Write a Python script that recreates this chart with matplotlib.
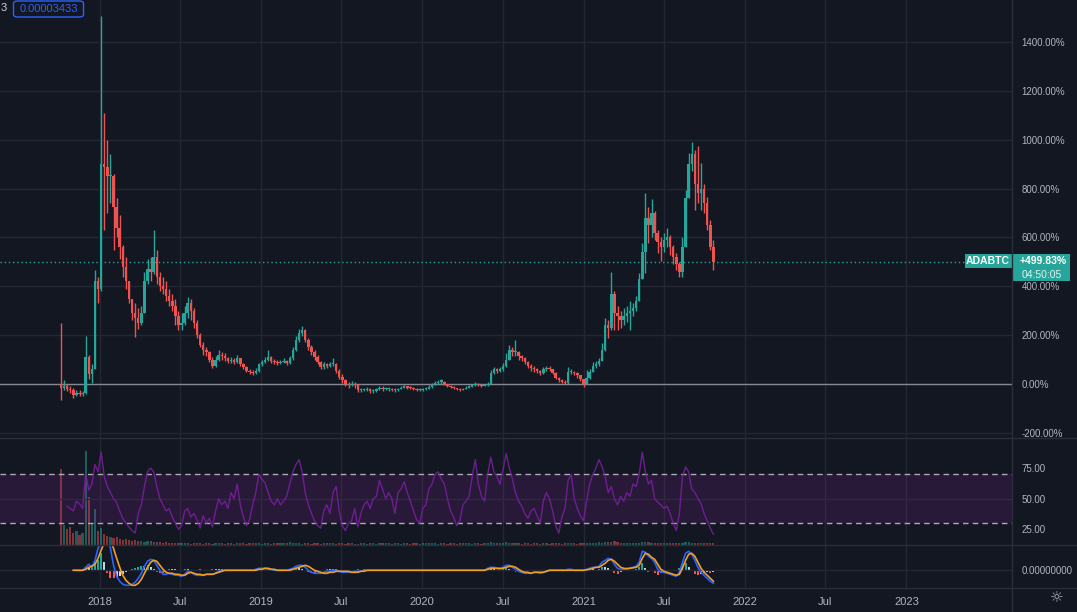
import numpy as np
import pandas as pd
import matplotlib
matplotlib.use('Agg')
import matplotlib.pyplot as plt
import matplotlib.dates as mdates
from matplotlib.lines import Line2D
from matplotlib.patches import Rectangle, FancyBboxPatch

plt.rcParams['font.family'] = ['Liberation Sans', 'DejaVu Sans']

nan = np.nan

# ADABTC weekly candles, % change from the first close
week_start = '2017-10-02'
closes = [
    -15, -10, -20, -25, -45, -35, -40, -38, 110, 40,
    60, 420, 390, 900, 890, 850, 850, 725, 640, 560,
    480, 420, 350, 290, 270, 250, 290, 420, 470, 460,
    520, 440, 400, 390, 360, 340, 320, 280, 240, 250,
    290, 330, 300, 250, 200, 160, 140, 130, 100, 75,
    100, 120, 115, 105, 95, 100, 90, 105, 80, 70,
    55, 50, 45, 55, 80, 90, 100, 110, 95, 90,
    85, 90, 95, 85, 105, 140, 180, 210, 220, 180,
    150, 130, 110, 90, 70, 80, 75, 80, 80, 55,
    30, 15, 0, -5, 0, -5, -25, -25, -25, -20,
    -30, -30, -20, -15, -20, -20, -20, -25, -25, -20,
    -15, -12, -15, -18, -20, -25, -25, -20, -20, -12,
    0, 5, 10, 10, 0, -8, -12, -18, -22, -25,
    -20, -15, -12, -5, 0, -5, -8, -5, 0, 45,
    60, 55, 60, 75, 100, 140, 130, 130, 115, 105,
    90, 75, 65, 60, 55, 45, 60, 65, 60, 45,
    25, 15, 10, 5, 50, 50, 45, 35, 20, 0,
    25, 50, 75, 80, 95, 140, 240, 230, 370, 290,
    280, 260, 280, 290, 300, 310, 340, 430, 540, 680,
    650, 700, 620, 580, 560, 590, 600, 560, 520, 490,
    460, 560, 760, 900, 940, 820, 780, 800, 740, 650,
    560, 499.83,
]
highs = [
    250, 15, 0, -10, -15, -25, -25, -30, 196, 120,
    80, 466, 440, 1506, 1110, 1000, 940, 860, 760, 690,
    570, 520, 420, 350, 330, 310, 320, 460, 510, 520,
    630, 550, 460, 440, 420, 390, 370, 350, 300, 290,
    320, 356, 350, 310, 260, 210, 170, 150, 135, 110,
    115, 140, 130, 125, 110, 112, 108, 120, 105, 85,
    75, 62, 58, 65, 88, 100, 112, 139, 115, 102,
    98, 100, 105, 98, 115, 150, 195, 225, 237, 225,
    190, 160, 140, 120, 95, 90, 88, 92, 106, 85,
    60, 40, 20, 10, 12, 8, 0, -15, -15, -12,
    -18, -20, -15, -8, -10, -12, -12, -15, -18, -15,
    -8, -5, -8, -10, -12, -15, -18, -15, -12, -5,
    5, 12, 15, 20, 12, 2, -5, -10, -15, -18,
    -15, -10, -5, 2, 8, 3, -2, 2, 8, 57,
    70, 65, 70, 85, 127, 160, 150, 180, 135, 120,
    110, 95, 80, 72, 65, 58, 68, 75, 72, 62,
    48, 30, 20, 15, 70, 62, 55, 48, 38, 22,
    57, 60, 90, 95, 105, 168, 270, 260, 458, 380,
    320, 300, 310, 320, 340, 330, 360, 454, 577, 782,
    725, 757, 710, 630, 600, 620, 638, 610, 570, 536,
    500, 600, 794, 945, 990, 958, 974, 904, 820, 766,
    671, 589,
]
lows = [
    -65, -25, -30, -35, -57, -50, -50, -50, -40, 20,
    5, 60, 330, 380, 630, 700, 740, 548, 600, 510,
    440, 390, 330, 260, 192, 225, 240, 290, 410, 420,
    450, 410, 380, 370, 340, 320, 300, 240, 220, 220,
    240, 270, 260, 230, 190, 150, 120, 115, 90, 65,
    70, 95, 100, 95, 85, 88, 80, 85, 72, 60,
    48, 42, 38, 40, 50, 75, 85, 95, 88, 82,
    78, 80, 85, 78, 82, 100, 135, 170, 195, 170,
    140, 120, 100, 80, 60, 62, 65, 68, 72, 45,
    20, 5, -8, -15, -10, -15, -33, -32, -30, -28,
    -35, -35, -32, -25, -28, -26, -28, -30, -32, -28,
    -22, -18, -20, -22, -25, -30, -30, -28, -25, -22,
    -15, -5, 0, 2, -5, -12, -18, -22, -26, -28,
    -26, -22, -18, -14, -8, -10, -14, -10, -8, -2,
    40, 45, 50, 55, 70, 100, 115, 115, 100, 95,
    80, 65, 55, 50, 45, 38, 42, 55, 52, 40,
    20, 10, 5, 0, 2, 40, 35, 25, 12, -12,
    -2, 20, 50, 65, 75, 95, 135, 190, 220, 220,
    220, 230, 240, 255, 220, 280, 300, 340, 430, 454,
    577, 600, 590, 536, 503, 540, 560, 530, 490, 466,
    438, 440, 560, 760, 870, 712, 740, 712, 700, 630,
    548, 466,
]
first_open = 0

# volume, drawn in panel pixels
volume = [
    76, 20, 16, 18, 12, 14, 10, 12, 94, 48, 21, 36, 14,
    17, 11, 9, 8, 7, 8, 6, 5, 6, 5, 4, 5, 4,
    4, 3, 4, 4, 3, 3, 3, 2.5, 3, 2.5, 2, 2.5, 2, 2, 2.5,
    2, 1.5, 2, 2.5, 2, 1.5, 2, 2, 1.5, 2,
    2.5, 2, 1.5, 2, 2, 1.5, 2, 2.5, 2, 1.5,
    2, 2, 2.5, 2, 1.5, 2, 2, 1.5, 2, 2,
    2.5, 2, 2, 3, 2.5, 2, 2, 1.5, 2, 2,
    1.5, 2, 2, 1.5, 2, 2, 2.5, 2, 1.5, 2,
    2, 1.5, 2, 2, 1.5, 1.5, 2, 2, 1.5, 2,
    2, 1.5, 2, 2, 2.5, 2, 1.5, 2, 2, 1.5,
    2, 2, 1.5, 2, 2, 1.5, 2, 2, 2.5, 2,
    2, 1.5, 2, 2, 1.5, 2, 2, 1.5, 2, 2,
    2, 2, 1.5, 2, 2, 1.5, 2, 2, 3, 2.5,
    2, 2, 2.5, 3, 2.5, 2, 2, 2, 1.5, 2,
    2, 1.5, 2, 2, 1.5, 2, 2, 1.5, 2, 2,
    2, 1.5, 2, 2.5, 2, 2, 1.5, 2, 2, 2.5,
    2.5, 2, 2.5, 3, 2.5, 3, 3.5, 3, 4, 3,
    2.5, 2.5, 2, 2.5, 2.5, 2, 2.5, 3, 3.5, 3,
    2.5, 2, 2, 2.5, 2, 2, 2, 2.5, 2.5, 2,
    2.5, 3, 3, 2.5, 2.5, 2, 2, 2.5, 2.5, 2, 2,
]

rsi = [
    nan, nan, 44, 42, 40, 48, 46, 42, 70, 57,
    62, 78, 72, 88, 68, 60, 55, 50, 47, 40,
    34, 30, 27, 24, 22, 38, 45, 60, 72, 75,
    72, 60, 50, 45, 40, 42, 35, 30, 25, 28,
    40, 42, 35, 38, 33, 26, 36, 30, 34, 27,
    40, 50, 45, 48, 42, 55, 50, 62, 45, 35,
    28, 33, 45, 55, 70, 66, 63, 55, 48, 45,
    50, 45, 48, 52, 62, 72, 78, 82, 72, 55,
    45, 38, 32, 28, 26, 40, 45, 38, 55, 60,
    40, 28, 24, 30, 32, 42, 27, 38, 45, 48,
    42, 50, 52, 65, 58, 50, 55, 50, 38, 55,
    58, 64, 55, 48, 40, 33, 30, 42, 45, 58,
    62, 70, 72, 66, 62, 50, 40, 35, 28, 32,
    45, 48, 52, 68, 82, 62, 52, 48, 70, 84,
    72, 68, 62, 74, 87, 75, 66, 55, 48, 44,
    38, 34, 40, 42, 36, 30, 48, 55, 50, 40,
    28, 22, 35, 42, 65, 70, 50, 42, 36, 32,
    48, 62, 70, 75, 82, 76, 68, 55, 60, 50,
    45, 52, 48, 55, 52, 62, 60, 70, 88, 72,
    62, 65, 50, 47, 45, 42, 44, 38, 30, 24,
    38, 68, 76, 72, 58, 55, 50, 46, 38, 32,
    26, 21,
]

# MACD in panel pixels above the zero line
macd = [
    nan, nan, nan, nan, 0, 0, 0, 0, 3, 6,
    3, 10, 22, 30, 40, 35, 22, 5, -6, -11,
    -14, -15, -15, -14, -12, -8, -3, 4, 9, 11,
    10, 5, 0, -4, -4, -3, -4, -5, -5, -6,
    -4, -1, -2, -4, -5, -5, -5, -4, -4, -4,
    -3, -1, 0, 0, 0, 0, 0, 0, 0, 0,
    0, 0, 0, 1, 2, 2, 2, 1, 1, 0,
    0, 0, 0, 0, 1, 2, 4, 5, 5, 3,
    0, -2, -3, -3, -3, -2, -1, -1, 0, 0,
    -1, -2, -2, -2, -2, -1, -1, -1, 0, 0,
    0, 0, 0, 0, 0, 0, 0, 0, 0, 0,
    0, 0, 0, 0, 0, 0, 0, 0, 0, 0,
    0, 0, 0, 0, 0, 0, 0, 0, 0, 0,
    0, 0, 0, 0, 0, 0, 0, 0, 2, 3,
    3, 2, 1, 3, 5, 5, 3, 1, -1, -2,
    -3, -3, -3, -2, -2, -3, -2, -1, 0, 0,
    0, 0, 0, 0, 1, 1, 0, 0, 0, 0,
    1, 2, 3, 3, 4, 8, 10, 12, 11, 6,
    2, 1, 1, 2, 2, 3, 4, 8, 19, 18,
    14, 12, 8, 1, -2, -2, -3, -4, -5, -6,
    -2, 8, 17, 19, 16, 10, 3, -2, -5, -8,
    -11, -13,
]
signal = [
    nan, nan, nan, nan, 0, 0, 0, 0, 1, 3,
    4, 6, 12, 20, 28, 32, 30, 22, 12, 3,
    -5, -10, -13, -15, -15, -13, -9, -3, 3, 8,
    10, 9, 5, 1, -2, -3, -3, -4, -4, -5,
    -5, -3, -2, -3, -4, -4, -5, -4, -4, -4,
    -3, -2, -1, 0, 0, 0, 0, 0, 0, 0,
    0, 0, 0, 0, 1, 1, 2, 2, 1, 1,
    0, 0, 0, 0, 0, 1, 2, 3, 4, 5,
    4, 2, 0, -1, -2, -3, -3, -2, -2, -1,
    -1, -1, -1, -1, -2, -2, -2, -1, -1, 0,
    0, 0, 0, 0, 0, 0, 0, 0, 0, 0,
    0, 0, 0, 0, 0, 0, 0, 0, 0, 0,
    0, 0, 0, 0, 0, 0, 0, 0, 0, 0,
    0, 0, 0, 0, 0, 0, 0, 0, 1, 2,
    2, 2, 2, 2, 3, 4, 4, 3, 1, -1,
    -2, -2, -3, -2, -2, -2, -2, -1, 0, 0,
    0, 0, 0, 0, 0, 0, 0, 0, 0, 0,
    0.5, 1, 2, 3, 3, 5, 7, 10, 11, 9,
    6, 3, 2, 1.5, 2, 2.5, 3, 5, 12, 17,
    16, 13, 11, 6, 1, -1, -2, -3, -4, -5,
    -4, 2, 10, 16, 17, 14, 8, 2, -2, -5,
    -8, -11,
]
hist = [
    nan, nan, nan, nan, 0, 0, 0, 0, 3, 2,
    5, 8, 10, 17, 8, -3, -8, -8, -7, -6,
    -4, -2, -1, 1, 2, 3, 4, 4, 5, 3,
    1, -2, -3, -3, -1, 1, 1, 1, 0, -1,
    1, 1, -1, -1, 0, 1, 0, 0, 0, 1,
    1, 1, 1, 0, 0, 0, 0, 0, 0, 0,
    0, 0, 0, 1, 1, 1, 0, -1, 0, -1,
    0, 0, 0, 0, 1, 1, 2, 2, 1, -1,
    -2, -3, -3, -2, -1, 0, 1, 1, 1, 1,
    0, -1, 0, 0, 0, 0, 1, 0, 1, 0,
    0, 0, 0, 0, 0, 0, 0, 0, 0, 0,
    0, 0, 0, 0, 0, 0, 0, 0, 0, 0,
    0, 0, 0, 0, 0, 0, 0, 0, 0, 0,
    0, 0, 0, 0, 0, 0, 0, 0, 1, 1,
    1, 0, -1, 1, 2, 1, -1, -2, -2, -1,
    -1, -1, 0, 0, 0, -1, 0, 0, 0, 0,
    0, 0, 0, 0, 0, 0, 0, 0, 0, 0,
    0, 1, 1, 0, 1, 3, 3, 2, 0, -3,
    -4, -2, -1, 0, 0, 0, 1, 3, 7, 2,
    -2, -1, -3, -5, -3, -1, 0, 0, 0, -1,
    2, 6, 7, 3, -1, -4, -5, -4, -3, -2,
    -3, -2,
]

tick_dates = ['2018-01-01', '2018-07-01', '2019-01-01', '2019-07-01', '2020-01-01',
              '2020-07-01', '2021-01-01', '2021-07-01', '2022-01-01', '2022-07-01',
              '2023-01-01']
tick_labels = ['2018', 'Jul', '2019', 'Jul', '2020', 'Jul', '2021', 'Jul', '2022', 'Jul', '2023']
price_ticks = [-200, 0, 200, 400, 600, 800, 1000, 1200, 1400]
rsi_ticks = [25, 50, 75]
last_pct = 499.83
last_price = '0.00003433'
countdown = '04:50:05'

# colours
bg = '#131722'
grid_c = '#232733'
sep_c = '#2a2e39'
txt_c = '#b2b5be'
up_c = '#26a69a'
down_c = '#ef5350'

W, H = 1077, 612
fig = plt.figure(figsize=(W / 100, H / 100), dpi=100, facecolor=bg)


def rect(x0, y0, x1, y1):
    return [x0 / W, 1 - y1 / H, (x1 - x0) / W, (y1 - y0) / H]


ax = fig.add_axes(rect(0, 0, 1012, 437.5), facecolor=bg)
ax_vol = fig.add_axes(rect(0, 437.5, 1012, 545.3), facecolor=bg)
ax_rsi = fig.add_axes(rect(0, 437.5, 1012, 545.3))
ax_rsi.patch.set_visible(False)
ax_macd = fig.add_axes(rect(0, 545.3, 1012, 587.7), facecolor=bg)

x_lo = mdates.date2num(pd.Timestamp('2017-05-20'))
x_hi = mdates.date2num(pd.Timestamp('2023-08-28'))
xt = mdates.date2num(pd.to_datetime(tick_dates))

for a in (ax, ax_vol, ax_rsi, ax_macd):
    a.set_xlim(x_lo, x_hi)
    for s in a.spines.values():
        s.set_visible(False)
    a.set_xticks(xt)
    a.tick_params(axis='both', length=0, labelsize=7, labelcolor=txt_c)
    a.set_axisbelow(True)

x = mdates.date2num(pd.date_range(week_start, periods=len(closes), freq='7D') + pd.Timedelta(days=3))
opens = [first_open] + closes[:-1]
cols = [up_c if c >= o else down_c for o, c in zip(opens, closes)]

# ---- main price panel
ax.set_ylim(-219, 1572)
ax.grid(True, color=grid_c, linewidth=1)
ax.vlines(x, lows, highs, colors=cols, linewidth=1.0, zorder=3)
body_lo = [min(o, c) for o, c in zip(opens, closes)]
body_h = [max(abs(c - o), 5) for o, c in zip(opens, closes)]
ax.bar(x, body_h, bottom=body_lo, width=5.6, color=cols, linewidth=0, zorder=3)
ax.axhline(0, color='#858892', linewidth=1, zorder=2)
ax.axhline(last_pct, color=up_c, linewidth=1, linestyle=(0, (1, 2)), zorder=2)
ax.yaxis.tick_right()
ax.set_yticks(price_ticks)
ax.set_yticklabels([f'{v:.2f}%' for v in price_ticks])
ax.tick_params(axis='y', pad=7)
ax.tick_params(axis='x', labelbottom=False)

# ---- volume + RSI panel
ax_vol.set_ylim(0, 107.8)
ax_vol.grid(True, axis='x', color=grid_c, linewidth=1)
vol_cols = [up_c if c >= o else down_c for o, c in zip(opens, closes)]
ax_vol.bar(x, volume, width=5, color=vol_cols, alpha=0.5, linewidth=0)
ax_vol.set_yticks([])
ax_vol.tick_params(axis='x', labelbottom=False)

ax_rsi.set_ylim(12, 100)
ax_rsi.axhspan(30, 70, color='#9c27b0', alpha=0.15, linewidth=0)
ax_rsi.axhline(50, color='#2e2b3e', linewidth=1)
ax_rsi.axhline(70, color='#a9acb5', linewidth=1, linestyle=(0, (4, 3)))
ax_rsi.axhline(30, color='#a9acb5', linewidth=1, linestyle=(0, (4, 3)))
ax_rsi.plot(x, rsi, color='#7b1fa2', alpha=0.85, linewidth=1)
ax_rsi.yaxis.tick_right()
ax_rsi.set_yticks(rsi_ticks)
ax_rsi.set_yticklabels([f'{v:.2f}' for v in rsi_ticks])
ax_rsi.tick_params(axis='y', pad=7)
ax_rsi.tick_params(axis='x', labelbottom=False)

# ---- MACD panel
ax_macd.set_ylim(-17.4, 25)
ax_macd.grid(True, axis='x', color=grid_c, linewidth=1)
ax_macd.axhline(0, color=grid_c, linewidth=1)
hcols = []
prev = 0
for v in hist:
    if np.isnan(v):
        hcols.append(up_c)
        continue
    if v >= 0:
        hcols.append(up_c if v > prev else '#b2dfdb')
    else:
        hcols.append('#ffcdd2' if v > prev else '#ff5252')
    prev = v
ax_macd.bar(x, hist, width=4.5, color=hcols, linewidth=0)
ax_macd.plot(x, macd, color='#2962ff', linewidth=1.2)
ax_macd.plot(x, signal, color='#f0a020', linewidth=1.2)
ax_macd.yaxis.tick_right()
ax_macd.set_yticks([0])
ax_macd.set_yticklabels(['0.00000000'])
ax_macd.tick_params(axis='y', pad=7)
ax_macd.set_xticklabels(tick_labels)
ax_macd.tick_params(axis='x', pad=7, labelsize=8)


# ---- panel separators
def fline(xs, ys):
    fig.add_artist(Line2D([v / W for v in xs], [1 - v / H for v in ys],
                          transform=fig.transFigure, color=sep_c, linewidth=1))


fline([0, W], [437.5, 437.5])
fline([0, W], [545.3, 545.3])
fline([0, W], [587.7, 587.7])
fline([1012, 1012], [0, H])

# ---- last price labels
fig.add_artist(Rectangle((965 / W, 1 - 268 / H), 48 / W, 14 / H,
                         transform=fig.transFigure, color=up_c, linewidth=0))
fig.add_artist(Rectangle((1012 / W, 1 - 281 / H), 58 / W, 27 / H,
                         transform=fig.transFigure, color=up_c, linewidth=0))
fig.text(988 / W, 1 - 261.5 / H, 'ADABTC', color='white', fontsize=7.5,
         fontweight='bold', ha='center', va='center')
fig.text(1043 / W, 1 - 261.5 / H, f'+{last_pct:.2f}%', color='white', fontsize=7.5,
         fontweight='bold', ha='center', va='center')
fig.text(1042 / W, 1 - 275 / H, countdown, color='#dff3f1', fontsize=7.5,
         ha='center', va='center')

# ---- top-left legend remnants
fig.text(1 / W, 1 - 8 / H, '3', color='#d1d4dc', fontsize=8, ha='left', va='center')
fig.add_artist(FancyBboxPatch((13.5 / W, 1 - 17 / H), 70 / W, 16 / H,
                              boxstyle='round,pad=0,rounding_size=0.004',
                              transform=fig.transFigure, facecolor=bg,
                              edgecolor='#2962ff', linewidth=1))
fig.text(48.5 / W, 1 - 9 / H, last_price, color='#2962ff', fontsize=8,
         ha='center', va='center')

fig.text(1057 / W, 1 - 598 / H, '\u263c', color=txt_c, fontsize=11,
         ha='center', va='center', family='DejaVu Sans')

plt.savefig('out.png', dpi=100, facecolor=bg)
